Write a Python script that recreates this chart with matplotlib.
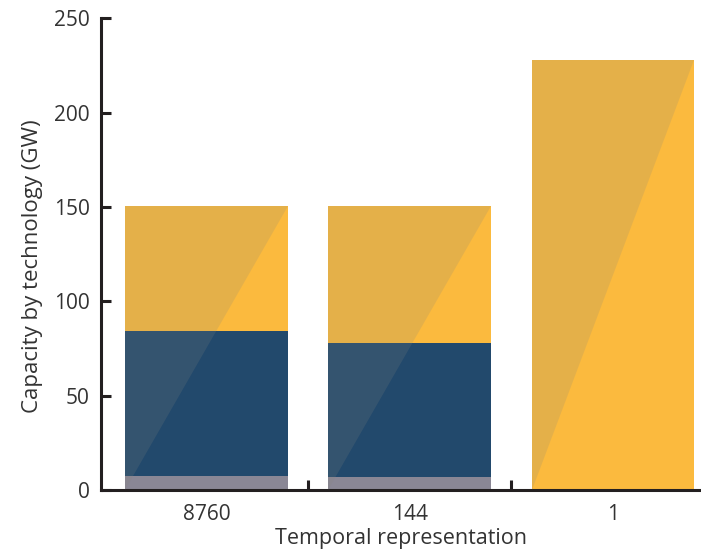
import matplotlib
matplotlib.use("Agg")
import matplotlib.pyplot as plt
import numpy as np

categories = ["8760", "144", "1"]
grey_vals = [7.4, 7.0, 0.0]
blue_vals = [76.8, 71.0, 0.0]
yellow_vals = [66.4, 72.5, 227.8]

colors = {"grey": "#8A8795", "blue": "#22496C", "yellow": "#FBBA3E"}
text_color = "#333333"
spine_color = "#231F20"

plt.rcParams['font.family'] = ['Open Sans', 'DejaVu Sans']

fig = plt.figure(figsize=(7.01, 5.5), dpi=100)
ax = fig.add_axes([0.144, 0.109, 0.855, 0.858])

x = np.arange(len(categories))
w = 0.8
g = np.array(grey_vals)
b = np.array(blue_vals)
yv = np.array(yellow_vals)
ax.bar(x, g, width=w, color=colors["grey"], linewidth=0, zorder=2)
ax.bar(x, b, width=w, bottom=g, color=colors["blue"], linewidth=0, zorder=2)
ax.bar(x, yv, width=w, bottom=g + b, color=colors["yellow"], linewidth=0, zorder=2)

totals = g + b + yv
for xi, t in zip(x, totals):
    ax.fill([xi - w / 2, xi - w / 2, xi + w / 2], [0, t, t],
            color=(134/255, 133/255, 125/255), alpha=0.19, linewidth=0, zorder=3)

ax.set_ylim(0, 250)
ax.set_xlim(-0.52, 2.43)
ax.set_yticks([0, 50, 100, 150, 200, 250])
ax.set_xticks(x)
ax.set_xticklabels(categories)
ax.set_xticks([0.5, 1.5], minor=True)

for s in ["top", "right"]:
    ax.spines[s].set_visible(False)
for s in ["left", "bottom"]:
    ax.spines[s].set_color(spine_color)
    ax.spines[s].set_linewidth(2.2)

ax.tick_params(axis="y", direction="in", length=7, width=2.2, color=spine_color,
               labelsize=15, labelcolor=text_color, pad=8)
ax.tick_params(axis="x", which="major", length=0, labelsize=15, labelcolor=text_color, pad=10)
ax.tick_params(axis="x", which="minor", direction="in", length=7, width=2.2, color=spine_color)

ax.set_ylabel("Capacity by technology (GW)", fontsize=16, color=text_color)
ax.yaxis.set_label_coords(-0.097, 0.475)
ax.set_xlabel("Temporal representation", fontsize=15.5, color=text_color, labelpad=2)

fig.savefig("out.png", dpi=100)
